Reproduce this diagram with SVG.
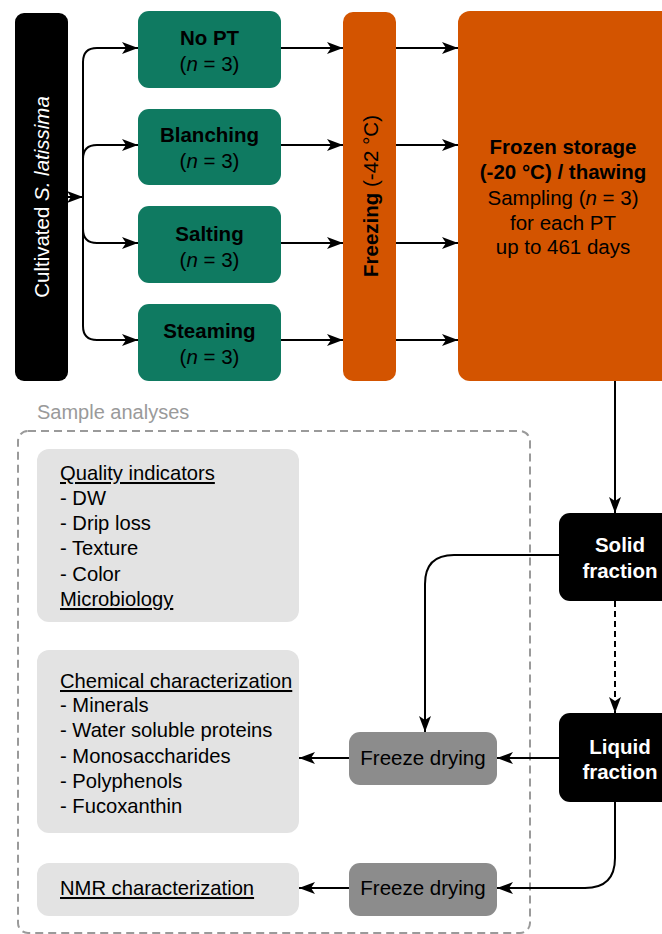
<svg xmlns="http://www.w3.org/2000/svg" width="662" height="934" viewBox="0 0 662 934">
<defs>
<marker id="ah" markerUnits="userSpaceOnUse" markerWidth="18" markerHeight="14" refX="16" refY="6" orient="auto">
<path d="M0,0 L16,6 L0,12 L4,6 z" fill="#000"/>
</marker>
<style>
text{font-family:"Liberation Sans",Arial,sans-serif;}
.c{stroke:#000;stroke-width:2;fill:none;marker-end:url(#ah);}
.w{fill:#fff;font-size:20.5px;}
.k{fill:#000;font-size:20.5px;}
.r{font-size:20.2px;}
.b{font-weight:bold;}
.green{fill:#0f7a61;}
.orange{fill:#d35400;}
.blk{fill:#000;}
.fd{fill:#8c8c8c;}
.lg{fill:#e3e3e3;}
</style>
</defs>
<rect width="662" height="934" fill="#fff"/>

<g id="sample-analyses">
<rect x="18" y="431" width="512" height="502" rx="10" fill="none" stroke="#9a9a9a" stroke-width="2" stroke-dasharray="8,5"/>
<text x="37" y="419" fill="#9a9a9a" font-size="20">Sample analyses</text>
</g>

<g id="connectors">
<path class="c" d="M68,197 H83"/>
<path class="c" d="M83,197 V62 Q83,48 97,48 H138"/>
<path class="c" d="M83,197 V159 Q83,145 97,145 H138"/>
<path class="c" d="M83,197 V229 Q83,243 97,243 H138"/>
<path class="c" d="M83,197 V326 Q83,340 97,340 H138"/>
<path class="c" d="M281,48 H343"/>
<path class="c" d="M281,145 H343"/>
<path class="c" d="M281,243 H343"/>
<path class="c" d="M281,340 H343"/>
<path class="c" d="M396,48 H458"/>
<path class="c" d="M396,145 H458"/>
<path class="c" d="M396,243 H458"/>
<path class="c" d="M396,340 H458"/>
<path class="c" d="M615,381 V513"/>
<path class="c" d="M559,555 H454 Q425,555 425,584 V732"/>
<path class="c" d="M615,601 V713" stroke-dasharray="6,4"/>
<path class="c" d="M559,758 H497"/>
<path class="c" d="M349,758 H299"/>
<path class="c" d="M615,802 V858 Q615,888 585,888 H497"/>
<path class="c" d="M349,888 H299"/>
</g>

<g id="cultivated">
<rect class="blk" x="15" y="13" width="53" height="368" rx="9"/>
<text class="w" transform="translate(49,197) rotate(-90)" text-anchor="middle">Cultivated <tspan font-style="italic">S. latissima</tspan></text>
</g>

<g id="no-pt">
<rect class="green" x="138" y="11" width="143" height="77" rx="11"/>
<text class="k b" x="209.5" y="45" text-anchor="middle">No PT</text>
<text class="k" x="209.5" y="71" text-anchor="middle">(<tspan font-style="italic">n</tspan> = 3)</text>
</g>
<g id="blanching">
<rect class="green" x="138" y="109" width="143" height="76" rx="11"/>
<text class="k b" x="209.5" y="142" text-anchor="middle">Blanching</text>
<text class="k" x="209.5" y="168" text-anchor="middle">(<tspan font-style="italic">n</tspan> = 3)</text>
</g>
<g id="salting">
<rect class="green" x="138" y="206" width="143" height="77" rx="11"/>
<text class="k b" x="209.5" y="241" text-anchor="middle">Salting</text>
<text class="k" x="209.5" y="267" text-anchor="middle">(<tspan font-style="italic">n</tspan> = 3)</text>
</g>
<g id="steaming">
<rect class="green" x="138" y="304" width="143" height="77" rx="11"/>
<text class="k b" x="209.5" y="338" text-anchor="middle">Steaming</text>
<text class="k" x="209.5" y="364" text-anchor="middle">(<tspan font-style="italic">n</tspan> = 3)</text>
</g>

<g id="freezing">
<rect class="orange" x="343" y="12" width="53" height="369" rx="10"/>
<text class="k" transform="translate(378,196) rotate(-90)" text-anchor="middle"><tspan font-weight="bold">Freezing</tspan> (-42 °C)</text>
</g>

<g id="frozen-storage">
<rect class="orange" x="458" y="11" width="220" height="370" rx="12"/>
<text class="k b" x="563" y="154" text-anchor="middle">Frozen storage</text>
<text class="k b" x="563" y="179" text-anchor="middle">(-20 °C) / thawing</text>
<text class="k" x="563" y="205" text-anchor="middle">Sampling (<tspan font-style="italic">n</tspan> = 3)</text>
<text class="k" x="563" y="230" text-anchor="middle">for each PT</text>
<text class="k" x="563" y="254" text-anchor="middle">up to 461 days</text>
</g>

<g id="solid-fraction">
<rect class="blk" x="559" y="513" width="120" height="88" rx="11"/>
<text class="w b" x="620" y="552" text-anchor="middle">Solid</text>
<text class="w b" x="620" y="578" text-anchor="middle">fraction</text>
</g>

<g id="liquid-fraction">
<rect class="blk" x="559" y="713" width="120" height="89" rx="11"/>
<text class="w b" x="620" y="754" text-anchor="middle">Liquid</text>
<text class="w b" x="620" y="779" text-anchor="middle">fraction</text>
</g>

<g id="freeze-drying-1">
<rect class="fd" x="349" y="732" width="148" height="53" rx="11"/>
<text class="k" x="423" y="765" text-anchor="middle">Freeze drying</text>
</g>
<g id="freeze-drying-2">
<rect class="fd" x="349" y="863" width="148" height="53" rx="11"/>
<text class="k" x="423" y="895" text-anchor="middle">Freeze drying</text>
</g>

<g id="quality">
<rect class="lg" x="37" y="449" width="262" height="173" rx="12"/>
<text class="k r" x="60" y="480" text-decoration="underline">Quality indicators</text>
<text class="k r" x="60" y="505">- DW</text>
<text class="k r" x="60" y="530">- Drip loss</text>
<text class="k r" x="60" y="555">- Texture</text>
<text class="k r" x="60" y="581">- Color</text>
<text class="k r" x="60" y="606" text-decoration="underline">Microbiology</text>
</g>

<g id="chemical">
<rect class="lg" x="37" y="650" width="262" height="183" rx="12"/>
<text class="k r" x="60" y="688" text-decoration="underline">Chemical characterization</text>
<text class="k r" x="60" y="712">- Minerals</text>
<text class="k r" x="60" y="737">- Water soluble proteins</text>
<text class="k r" x="60" y="763">- Monosaccharides</text>
<text class="k r" x="60" y="788">- Polyphenols</text>
<text class="k r" x="60" y="813">- Fucoxanthin</text>
</g>

<g id="nmr">
<rect class="lg" x="37" y="863" width="262" height="53" rx="12"/>
<text class="k r" x="60" y="895" text-decoration="underline">NMR characterization</text>
</g>
</svg>
